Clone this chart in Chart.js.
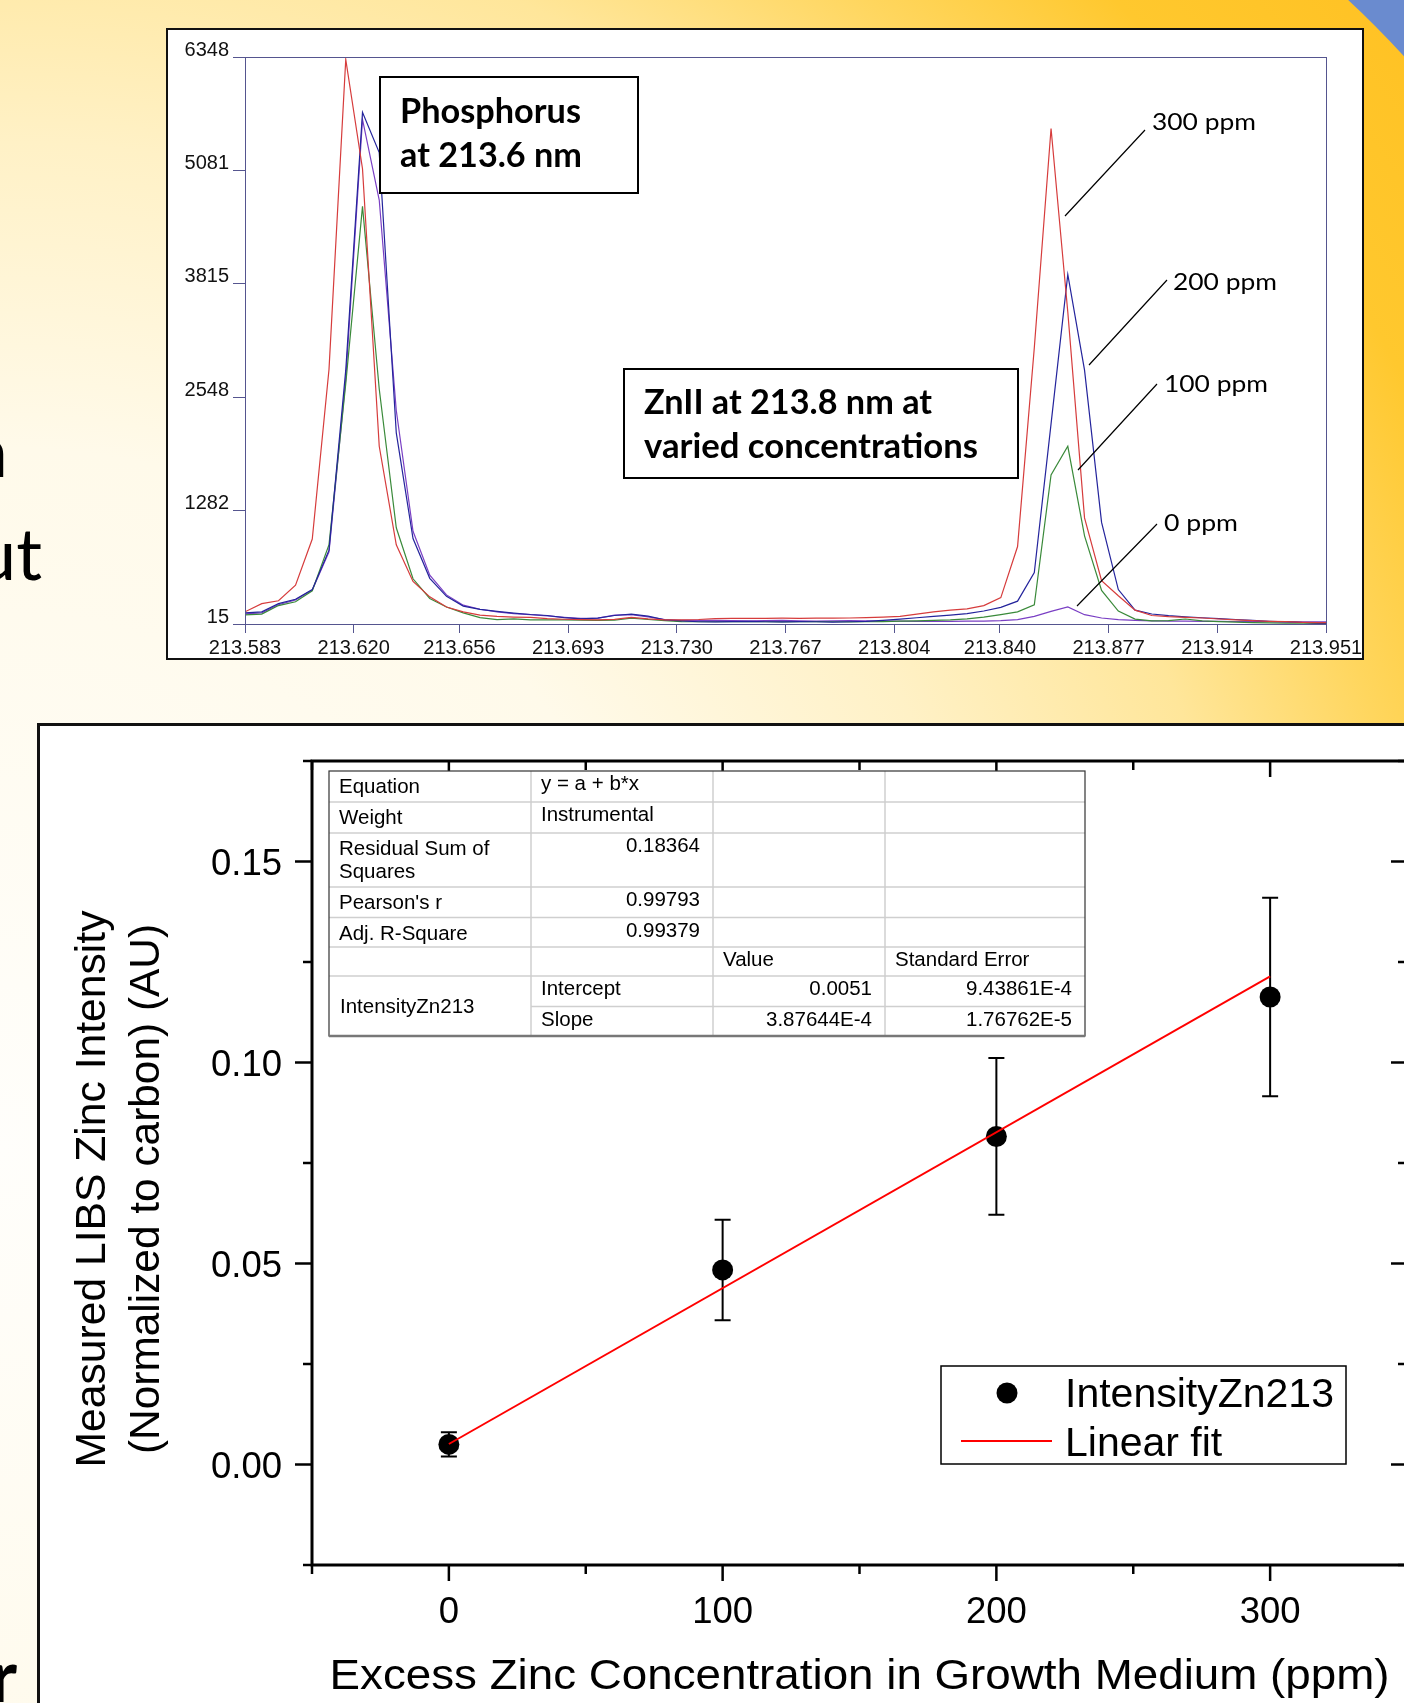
<!DOCTYPE html>
<html>
<head>
<meta charset="utf-8">
<script src="https://cdn.jsdelivr.net/npm/chart.js@4.4.1/dist/chart.umd.min.js"></script>
<style>
  html, body { margin: 0; padding: 0; width: 1404px; height: 1703px; overflow: hidden; }
  body { position: relative; }
  #bg { position: absolute; left: 0; top: 0; }
  #specBox { position: absolute; left: 166px; top: 28px; border: 2px solid #111; background: #fff; width: 1194px; height: 628px; }
  #calibBox { position: absolute; left: 37px; top: 723px; border: 3px solid #111; background: #fff; width: 1400px; height: 1000px; }
</style>
</head>
<body>
<canvas id="bg" width="1404" height="1703"></canvas>
<div id="specBox"><canvas id="spec" width="1194" height="628" style="box-sizing:content-box"></canvas></div>
<div id="calibBox"><canvas id="calib" width="1400" height="1000" style="box-sizing:content-box"></canvas></div>
<script>
// ---- top panel: LIBS spectra ----
var wavelength = [
  213.5830, 213.5887, 213.5944, 213.6002, 213.6059, 213.6116, 213.6173, 213.6230, 213.6287, 213.6345,
  213.6402, 213.6459, 213.6516, 213.6573, 213.6630, 213.6688, 213.6745, 213.6802, 213.6859, 213.6916,
  213.6973, 213.7031, 213.7088, 213.7145, 213.7202, 213.7259, 213.7316, 213.7374, 213.7431, 213.7488,
  213.7545, 213.7602, 213.7659, 213.7717, 213.7774, 213.7831, 213.7888, 213.7945, 213.8002, 213.8060,
  213.8117, 213.8174, 213.8231, 213.8288, 213.8345, 213.8403, 213.8460, 213.8517, 213.8574, 213.8631,
  213.8688, 213.8746, 213.8803, 213.8860, 213.8917, 213.8974, 213.9031, 213.9089, 213.9146, 213.9203,
  213.9260, 213.9317, 213.9374, 213.9432, 213.9489, 213.9546
];
var ppm300 = [
  151, 242, 275, 448, 964, 2860, 6320, 5100, 2000, 900,
  490, 318, 205, 150, 115, 100, 92, 88, 75, 68,
  63, 62, 66, 88, 72, 62, 60, 65, 75, 78,
  78, 78, 80, 78, 80, 80, 82, 86, 92, 100,
  125, 150, 170, 185, 220, 310, 880, 3100, 5550, 3500,
  1200, 500, 330, 170, 110, 97, 89, 82, 71, 60,
  52, 45, 41, 34, 30, 28
];
var ppm200 = [
  139, 151, 242, 291, 399, 840, 2850, 5730, 5280, 2150,
  970, 525, 324, 215, 178, 156, 137, 121, 110, 87,
  72, 80, 110, 125, 102, 61, 49, 40, 38, 42,
  45, 40, 38, 42, 40, 36, 40, 44, 55, 70,
  85, 100, 115, 130, 160, 200, 270, 590, 2250, 3920,
  2850, 1150, 400, 170, 127, 108, 95, 85, 75, 65,
  55, 45, 38, 32, 25, 22
];
var ppm100 = [
  118, 126, 221, 263, 386, 902, 2700, 4680, 2640, 1090,
  520, 300, 205, 140, 87, 64, 72, 61, 60, 60,
  58, 56, 58, 80, 65, 52, 42, 40, 40, 40,
  42, 40, 38, 40, 42, 40, 38, 40, 42, 48,
  50, 55, 61, 72, 91, 120, 150, 230, 1680, 2000,
  1000, 390, 160, 70, 50, 52, 71, 50, 41, 35,
  30, 28, 25, 24, 22, 22
];
var ppm0 = [
  128, 140, 230, 285, 395, 820, 2750, 5650, 4750, 2400,
  1050, 560, 340, 225, 180, 150, 130, 120, 105, 90,
  78, 80, 115, 120, 95, 65, 55, 55, 55, 52,
  50, 52, 55, 50, 48, 50, 52, 50, 48, 46,
  45, 45, 45, 46, 48, 52, 63, 100, 156, 205,
  119, 82, 63, 55, 50, 48, 46, 45, 44, 43,
  42, 42, 41, 40, 40, 40
];
var wlTicks = [213.583, 213.620, 213.656, 213.693, 213.730, 213.767, 213.804, 213.840, 213.877, 213.914, 213.951];
var intTicks = [15, 1282, 2548, 3815, 5081, 6348];

// ---- bottom panel: calibration ----
var conc = [0, 100, 200, 300];
var znIntensity = [0.0050, 0.0484, 0.0816, 0.1163];
var znError = [0.0030, 0.0125, 0.0195, 0.0247];
var fitX = [0, 300];
var fitY = [0.0051, 0.1214];
var xMajor = [0, 100, 200, 300];
var xMinor = [-50, 50, 150, 250, 350];
var yMajor = [0, 0.05, 0.10, 0.15];
var yMinor = [-0.025, 0.025, 0.075, 0.125, 0.175];
var xTickLabels = ["0", "100", "200", "300"];
var yTickLabels = ["0.00", "0.05", "0.10", "0.15"];

var ARIAL = '"Liberation Sans", Arial, sans-serif';
var CALI = 'Lato, "Open Sans", sans-serif';

function fitText(ctx, text, x, y, width, align) {
  var w = ctx.measureText(text).width;
  ctx.save();
  ctx.translate(x, y);
  ctx.scale(width / w, 1);
  ctx.textAlign = align || "left";
  ctx.fillText(text, 0, 0);
  ctx.restore();
}

// ---- background slide ----
(function () {
  var c = document.getElementById("bg").getContext("2d");
  var g = c.createRadialGradient(0, 1150, 0, 0, 1150, 1800);
  g.addColorStop(0, "#fffefb");
  g.addColorStop(0.39, "#fffaea");
  g.addColorStop(0.56, "#fff1c6");
  g.addColorStop(0.7, "#ffe69a");
  g.addColorStop(0.8, "#ffd65e");
  g.addColorStop(0.89, "#ffc82e");
  g.addColorStop(1, "#ffc224");
  c.fillStyle = g;
  c.fillRect(0, 0, 1404, 1703);

  c.save();
  c.beginPath();
  c.rect(1300, 0, 104, 130);
  c.clip();
  c.beginPath();
  c.rect(0, 0, 1404, 1703);
  c.arc(700, 700, 954, 0, Math.PI * 2, true);
  c.fillStyle = "#6a8bcf";
  c.fill("evenodd");
  c.restore();

  c.fillStyle = "#000";
  c.textAlign = "right";
  c.font = "72px " + CALI;
  c.fillText("n", 8, 477);
  c.fillText("ut", 42, 580);
  c.font = "bold 72px " + CALI;
  c.fillText("r", 17, 1702);
})();

// ---- top chart ----
function pts(arr) {
  return wavelength.map(function (w, i) { return { x: w, y: arr[i] }; });
}

var specDecor = {
  id: "specDecor",
  afterDraw: function (chart) {
    var ctx = chart.ctx, a = chart.chartArea;
    ctx.save();
    ctx.strokeStyle = "#55558f";
    ctx.lineWidth = 1;
    ctx.strokeRect(Math.round(a.left) + 0.5, Math.round(a.top) + 0.5, Math.round(a.right - a.left), Math.round(a.bottom - a.top));

    // boxed notes
    ctx.strokeStyle = "#000";
    ctx.lineWidth = 2;
    ctx.fillStyle = "#fff";
    ctx.fillRect(212, 47, 258, 116);
    ctx.strokeRect(212, 47, 258, 116);
    ctx.fillRect(456, 339, 394, 109);
    ctx.strokeRect(456, 339, 394, 109);
    ctx.fillStyle = "#000";
    ctx.font = "bold 35px " + CALI;
    fitText(ctx, "Phosphorus", 232, 93, 181);
    fitText(ctx, "at 213.6 nm", 232, 137, 182);
    fitText(ctx, "ZnII at 213.8 nm at", 476, 384, 288);
    fitText(ctx, "varied concentrations", 476, 428, 334);

    // concentration labels with leader lines
    ctx.font = "24px " + CALI;
    fitText(ctx, "300 ppm", 984, 100, 104);
    fitText(ctx, "200 ppm", 1005, 260, 104);
    fitText(ctx, "100 ppm", 996, 362, 104);
    fitText(ctx, "0 ppm", 996, 501, 74);
    ctx.lineWidth = 1.2;
    ctx.beginPath();
    ctx.moveTo(977, 100); ctx.lineTo(897, 186);
    ctx.moveTo(999, 250); ctx.lineTo(921, 335);
    ctx.moveTo(989, 354); ctx.lineTo(910, 440);
    ctx.moveTo(989, 494); ctx.lineTo(909, 576);
    ctx.stroke();
    ctx.restore();
  }
};

new Chart(document.getElementById("spec"), {
  type: "line",
  data: {
    datasets: [
      { label: "300 ppm", data: pts(ppm300), borderColor: "#d63c3c" },
      { label: "200 ppm", data: pts(ppm200), borderColor: "#24249c" },
      { label: "100 ppm", data: pts(ppm100), borderColor: "#3a8a3a" },
      { label: "0 ppm", data: pts(ppm0), borderColor: "#7a3fc4" },
    ],
  },
  options: {
    responsive: false,
    animation: false,
    devicePixelRatio: 1,
    events: [],
    layout: { padding: { top: 27, right: 36, left: 0, bottom: 0 } },
    elements: { point: { radius: 0 }, line: { borderWidth: 1.2, tension: 0 } },
    plugins: { legend: { display: false }, tooltip: { enabled: false } },
    scales: {
      x: {
        type: "linear",
        min: 213.583,
        max: 213.951,
        afterBuildTicks: function (s) { s.ticks = wlTicks.map(function (v) { return { value: v }; }); },
        afterFit: function (s) { s.height = 34; s.paddingLeft = 0; s.paddingRight = 0; },
        ticks: {
          autoSkip: false, maxRotation: 0, minRotation: 0, padding: 3, color: "#111",
          font: { family: ARIAL, size: 20 },
          callback: function (v) { return v.toFixed(3); },
        },
        grid: { drawOnChartArea: false, tickLength: 9, color: "#55558f" },
        border: { display: false },
      },
      y: {
        min: 15,
        max: 6348,
        afterBuildTicks: function (s) { s.ticks = intTicks.map(function (v) { return { value: v }; }); },
        afterFit: function (s) { s.width = 77; s.paddingTop = 0; s.paddingBottom = 0; },
        ticks: {
          autoSkip: false, padding: 4, labelOffset: -7, color: "#111",
          font: { family: ARIAL, size: 20 },
          callback: function (v) { return String(v); },
        },
        grid: { drawOnChartArea: false, tickLength: 12, color: "#55558f" },
        border: { display: false },
      },
    },
  },
  plugins: [specDecor],
});

// ---- bottom chart ----
var fitTable = [
  ["Equation", "y = a + b*x", "", ""],
  ["Weight", "Instrumental", "", ""],
  ["Residual Sum of|Squares", "0.18364", "", ""],
  ["Pearson's r", "0.99793", "", ""],
  ["Adj. R-Square", "0.99379", "", ""],
  ["", "", "Value", "Standard Error"],
  ["IntensityZn213", "Intercept", "0.0051", "9.43861E-4"],
  ["", "Slope", "3.87644E-4", "1.76762E-5"],
];

var calibDecor = {
  id: "calibDecor",
  beforeDatasetsDraw: function (chart) {
    var ctx = chart.ctx, x = chart.scales.x, y = chart.scales.y;
    ctx.save();
    ctx.strokeStyle = "#000";
    ctx.lineWidth = 2;
    conc.forEach(function (c, i) {
      var px = x.getPixelForValue(c);
      var top = y.getPixelForValue(znIntensity[i] + znError[i]);
      var bot = y.getPixelForValue(znIntensity[i] - znError[i]);
      ctx.beginPath();
      ctx.moveTo(px, top); ctx.lineTo(px, bot);
      ctx.moveTo(px - 8, top); ctx.lineTo(px + 8, top);
      ctx.moveTo(px - 8, bot); ctx.lineTo(px + 8, bot);
      ctx.stroke();
    });
    ctx.restore();
  },
  afterDraw: function (chart) {
    var ctx = chart.ctx, a = chart.chartArea, x = chart.scales.x, y = chart.scales.y;
    ctx.save();
    ctx.strokeStyle = "#000";
    ctx.lineWidth = 3;
    ctx.strokeRect(a.left, a.top, a.right - a.left, a.bottom - a.top);

    function tick(px, py, dx, dy) {
      ctx.beginPath(); ctx.moveTo(px, py); ctx.lineTo(px + dx, py + dy); ctx.stroke();
    }
    ctx.lineWidth = 2.5;
    xMajor.forEach(function (v) { var p = x.getPixelForValue(v); tick(p, a.bottom, 0, 16); tick(p, a.top, 0, 16); });
    xMinor.forEach(function (v) { var p = x.getPixelForValue(v); tick(p, a.bottom, 0, 9); tick(p, a.top, 0, 9); });
    yMajor.forEach(function (v) { var p = y.getPixelForValue(v); tick(a.left, p, -17, 0); tick(a.right, p, -16, 0); });
    yMinor.forEach(function (v) { var p = y.getPixelForValue(v); tick(a.left, p, -9, 0); tick(a.right, p, -9, 0); });

    ctx.fillStyle = "#000";
    ctx.font = "36.5px " + ARIAL;
    ctx.textAlign = "center";
    xMajor.forEach(function (v, i) { ctx.fillText(xTickLabels[i], x.getPixelForValue(v), a.bottom + 58); });
    ctx.textAlign = "right";
    yMajor.forEach(function (v, i) { ctx.fillText(yTickLabels[i], a.left - 30, y.getPixelForValue(v) + 13); });

    // axis titles
    ctx.font = "42px " + ARIAL;
    fitText(ctx, "Excess Zinc Concentration in Growth Medium (ppm)", (a.left + a.right) / 2, a.bottom + 124, 1060, "center");
    ctx.save();
    ctx.translate(65, 463);
    ctx.rotate(-Math.PI / 2);
    fitText(ctx, "Measured LIBS Zinc Intensity", 0, 0, 557, "center");
    ctx.restore();
    ctx.save();
    ctx.translate(119, 463);
    ctx.rotate(-Math.PI / 2);
    fitText(ctx, "(Normalized to carbon) (AU)", 0, 0, 530, "center");
    ctx.restore();

    // fit results table
    var cols = [289, 491, 673, 845, 1045];
    var rows = [45, 76, 107, 161, 191.5, 221, 250, 280.5, 310];
    ctx.fillStyle = "#fff";
    ctx.fillRect(cols[0], rows[0], cols[4] - cols[0], rows[8] - rows[0]);
    ctx.strokeStyle = "#cfcfcf";
    ctx.lineWidth = 1.5;
    ctx.beginPath();
    for (var r = 1; r < 8; r++) {
      ctx.moveTo(r === 7 ? cols[1] : cols[0], rows[r]);
      ctx.lineTo(cols[4], rows[r]);
    }
    for (var c = 1; c < 4; c++) {
      ctx.moveTo(cols[c], rows[0]);
      ctx.lineTo(cols[c], rows[8]);
    }
    ctx.stroke();
    ctx.strokeStyle = "#333";
    ctx.lineWidth = 1.2;
    ctx.strokeRect(cols[0], rows[0], cols[4] - cols[0], rows[8] - rows[0]);
    ctx.strokeStyle = "#777";
    ctx.lineWidth = 2.5;
    ctx.beginPath(); ctx.moveTo(cols[0], rows[8]); ctx.lineTo(cols[4], rows[8]); ctx.stroke();

    ctx.fillStyle = "#000";
    ctx.font = "20.5px " + ARIAL;
    var numeric = /^[0-9.]/;
    fitTable.forEach(function (row, ri) {
      var base = rows[ri] + 22;
      row.forEach(function (txt, ci) {
        if (!txt) return;
        if (ci === 0 && ri === 6) {
          ctx.textAlign = "left";
          ctx.fillText(txt, cols[0] + 11, rows[8] - 23);
          return;
        }
        var lines = txt.split("|");
        lines.forEach(function (t, li) {
          var by = base + li * 23 - (ci > 0 && ri < 5 ? 3 : 0);
          if (ri >= 5) by = rows[ri] + 19;
          if (numeric.test(t) && ci > 0) {
            ctx.textAlign = "right";
            ctx.fillText(t, cols[ci + 1] - 13, by);
          } else {
            ctx.textAlign = "left";
            ctx.fillText(t, cols[ci] + 10, by);
          }
        });
      });
    });

    // legend
    ctx.strokeStyle = "#000";
    ctx.lineWidth = 1.5;
    ctx.fillStyle = "#fff";
    ctx.fillRect(901, 640, 405, 98);
    ctx.strokeRect(901, 640, 405, 98);
    ctx.fillStyle = "#000";
    ctx.beginPath(); ctx.arc(967, 667, 10.5, 0, Math.PI * 2); ctx.fill();
    ctx.strokeStyle = "#ff0000";
    ctx.lineWidth = 2;
    ctx.beginPath(); ctx.moveTo(921, 715); ctx.lineTo(1012, 715); ctx.stroke();
    ctx.font = "41px " + ARIAL;
    ctx.textAlign = "left";
    ctx.fillText("IntensityZn213", 1025, 681);
    ctx.fillText("Linear fit", 1025, 730);
    ctx.restore();
  },
};

new Chart(document.getElementById("calib"), {
  type: "scatter",
  data: {
    datasets: [
      {
        type: "line", label: "Linear fit", order: 0,
        data: fitX.map(function (v, i) { return { x: v, y: fitY[i] }; }),
        borderColor: "#ff0000", borderWidth: 2, pointRadius: 0, tension: 0,
      },
      {
        type: "scatter", label: "IntensityZn213", order: 1,
        data: conc.map(function (v, i) { return { x: v, y: znIntensity[i] }; }),
        pointRadius: 10.5, backgroundColor: "#000", borderWidth: 0,
      },
    ],
  },
  options: {
    responsive: false,
    animation: false,
    devicePixelRatio: 1,
    events: [],
    layout: { padding: { top: 35, right: 33, left: 0, bottom: 0 } },
    plugins: { legend: { display: false }, tooltip: { enabled: false } },
    scales: {
      x: {
        type: "linear", min: -50, max: 350,
        ticks: { display: false }, grid: { display: false }, border: { display: false },
        afterFit: function (s) { s.height = 161; s.paddingLeft = 0; s.paddingRight = 0; },
      },
      y: {
        type: "linear", min: -0.025, max: 0.175,
        ticks: { display: false }, grid: { display: false }, border: { display: false },
        afterFit: function (s) { s.width = 272; s.paddingTop = 0; s.paddingBottom = 0; },
      },
    },
  },
  plugins: [calibDecor],
});
</script>
</body>
</html>
